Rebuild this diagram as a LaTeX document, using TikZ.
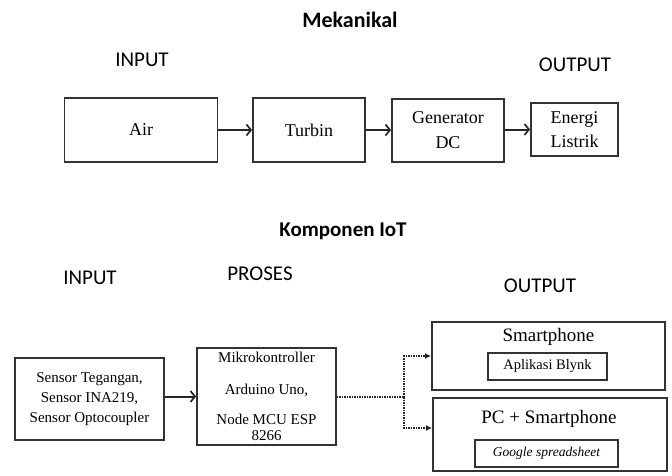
\documentclass[tikz,border=0pt]{standalone}
\usepackage{fontspec}
\setmainfont{Liberation Serif}
\newfontfamily\headfont{Carlito}
\usepackage{tikz}
\usetikzlibrary{arrows.meta, calc}

\begin{document}
\begin{tikzpicture}[x=1pt, y=-1pt]
    \useasboundingbox (0,0) rectangle (672,475);

    % judul dan label kolom
    \begin{scope}[every node/.style={font=\headfont\fontsize{21}{25}\selectfont}]
        \node[font=\headfont\bfseries\fontsize{22}{26}\selectfont] (mek) at (350,20) {Mekanikal};
        \node (in1) at (142,60) {INPUT};
        \node (out1) at (575,65) {OUTPUT};
        \node[font=\headfont\bfseries\fontsize{21}{25}\selectfont] (iot) at (343,231) {Komponen IoT};
        \node (in2) at (90,278) {INPUT};
        \node (pro) at (260,274) {PROSES};
        \node (out2) at (540,286) {OUTPUT};
    \end{scope}

    % blok mekanikal
    \begin{scope}[every node/.style={draw=black!80, line width=1.8pt, inner sep=0pt,
        align=center, font=\fontsize{18}{25}\selectfont}]
        \node[minimum width=153pt, minimum height=64pt] (air) at (141,130) {Air};
        \node[minimum width=112pt, minimum height=64pt] (turbin) at (309,130) {Turbin};
        \node[minimum width=112pt, minimum height=63pt] (gen) at (448,130.5) {Generator\\DC};
        \node[minimum width=87pt, minimum height=53pt, font=\fontsize{18}{24}\selectfont]
            (listrik) at (574.5,129.5) {Energi\\Listrik};
    \end{scope}

    % blok IoT
    \begin{scope}[every node/.style={draw=black!80, line width=1.8pt, inner sep=0pt,
        align=center, font=\fontsize{15}{20}\selectfont}]
        \node[minimum width=149pt, minimum height=82pt] (sensor) at (89.5,399)
            {Sensor Tegangan,\\Sensor INA219,\\Sensor Optocoupler};
        \node[minimum width=139pt, minimum height=97pt] (mikro) at (266.5,396.5)
            {Mikrokontroller\\[12pt]Arduino Uno,\\[10pt]Node MCU ESP\\[-4pt]8266};
        \node[minimum width=233pt, minimum height=68pt] (smart) at (548.5,356) {};
        \node[minimum width=234pt, minimum height=73pt] (pc) at (550,434.5) {};
        \node[minimum width=119pt, minimum height=27pt, font=\fontsize{14.5}{17}\selectfont]
            (blynk) at (547.5,366.5) {Aplikasi Blynk};
        \node[minimum width=143pt, minimum height=27pt, font=\itshape\fontsize{13.5}{16}\selectfont]
            (google) at (546.5,453.5) {Google spreadsheet};
    \end{scope}
    \node[font=\fontsize{19}{22}\selectfont] (smarttxt) at (548.5,337) {Smartphone};
    \node[font=\fontsize{19}{22}\selectfont] (pctxt) at (549,419) {PC + Smartphone};

    % panah
    \begin{scope}[>={Straight Barb[length=4.5pt, width=11pt, line width=1.7pt]},
        every path/.style={draw=black!85, line width=2pt}]
        \draw[->] (air) -- (turbin);
        \draw[->] (turbin) -- (turbin -| gen.west);
        \draw[->] (gen.east |- listrik) -- (listrik);
        \draw[->] (sensor.east |- mikro) -- (mikro);
    \end{scope}

    \coordinate (split) at (404,397);
    \begin{scope}[>={Latex[length=6pt, width=6pt]},
        every path/.style={draw=black!85, line width=1.5pt, densely dotted}]
        \draw (mikro.east |- split) -- (split);
        \draw[->] (split) |- (smart.west);
        \draw[->] (split) |- ([yshift=6.5pt]pc.west);
    \end{scope}
\end{tikzpicture}
\end{document}
